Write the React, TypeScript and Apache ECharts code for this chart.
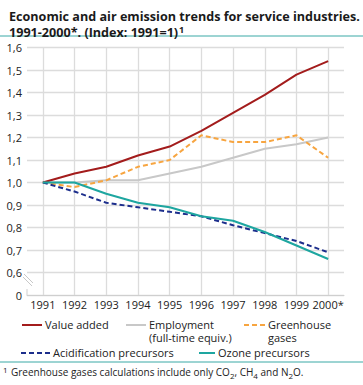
import React, { useEffect, useRef } from "react";
import * as echarts from "echarts";

const years = ["1991", "1992", "1993", "1994", "1995", "1996", "1997", "1998", "1999", "2000*"];
const seriesNames = [
  "Value added",
  "Employment\n(full-time equiv.)",
  "Greenhouse\ngases",
  "Acidification precursors",
  "Ozone precursors",
];
const valueAdded = [1.0, 1.04, 1.07, 1.12, 1.16, 1.23, 1.31, 1.39, 1.48, 1.54];
const employment = [1.0, 1.0, 1.01, 1.01, 1.04, 1.07, 1.11, 1.15, 1.17, 1.2];
const greenhouse = [1.0, 0.98, 1.01, 1.07, 1.1, 1.21, 1.18, 1.18, 1.21, 1.11];
const acidification = [1.0, 0.96, 0.91, 0.89, 0.87, 0.85, 0.81, 0.775, 0.74, 0.69];
const ozone = [1.0, 1.0, 0.95, 0.91, 0.89, 0.85, 0.83, 0.78, 0.72, 0.66];

const colors = ["#a31c1c", "#c8c8c8", "#f7a540", "#1c2e8c", "#1ea6a0"];
const dashed = [false, false, true, true, false];
const FONT = "Open Sans";

export default function App() {
  const ref = useRef<HTMLDivElement>(null);
  useEffect(() => {
    if (!ref.current) return;
    const chart = echarts.init(ref.current, null, { renderer: "svg" });
    const data = [valueAdded, employment, greenhouse, acidification, ozone];
    const legendPos = [
      { x: 22, y: 325, w: 20 },
      { x: 126, y: 325, w: 20 },
      { x: 244, y: 325, w: 21 },
      { x: 21, y: 353, w: 29 },
      { x: 199, y: 353, w: 16 },
    ];
    const legendGraphics: any[] = [];
    seriesNames.forEach((name, i) => {
      const p = legendPos[i];
      legendGraphics.push({
        type: "line",
        shape: { x1: p.x, y1: p.y, x2: p.x + p.w, y2: p.y },
        style: {
          stroke: colors[i],
          lineWidth: 2,
          lineDash: dashed[i] ? [5, 3] : null,
        },
      });
      legendGraphics.push({
        type: "text",
        x: p.x + p.w + 3,
        y: p.y - 7,
        style: {
          text: name,
          font: `11px '${FONT}'`,
          fill: "#222",
          lineHeight: 13,
          verticalAlign: "top",
        },
      });
    });
    chart.setOption({
      animation: false,
      title: {
        left: 4,
        top: 4,
        text:
          "{t|Economic and air emission trends for service industries.}\n{t|1991-2000*. (Index: 1991=1)}{sup|1}",
        textStyle: {
          rich: {
            t: { fontFamily: FONT, fontWeight: "bold", fontSize: 12.6, lineHeight: 15.5, color: "#1a1a1a" },
            sup: { fontFamily: FONT, fontWeight: "bold", fontSize: 9, color: "#1a1a1a", padding: [0, 0, 7, 1] },
          },
        },
      },
      grid: { left: 27, right: 19, top: 47.6, bottom: 90 },
      xAxis: {
        type: "category",
        data: years,
        boundaryGap: true,
        axisLine: { show: true, lineStyle: { color: "#cfcfcf", width: 1 } },
        axisTick: { show: false },
        splitLine: { show: true, alignWithLabel: true, lineStyle: { color: "#dcdcdc", width: 1.3 } } as any,
        axisLabel: { fontFamily: FONT, fontSize: 11, color: "#222", margin: 4, interval: 0 },
      },
      yAxis: {
        type: "value",
        min: 0.5,
        max: 1.6,
        interval: 0.1,
        axisLine: { show: false },
        axisTick: { show: false },
        splitLine: { lineStyle: { color: "#dcdcdc", width: 1.3 } },
        axisLabel: {
          fontFamily: FONT,
          fontSize: 11,
          color: "#222",
          margin: 5,
          formatter: (v: number) => (v < 0.55 ? "0" : v.toFixed(1).replace(".", ",")),
        },
      },
      series: seriesNames.map((name, i) => ({
        name,
        type: "line",
        data: data[i],
        symbol: "none",
        z: i === 1 ? 1 : 2 + i,
        lineStyle: { color: colors[i], width: 2, type: dashed[i] ? [5, 3] : "solid" },
      })),
      graphic: [
        { type: "line", shape: { x1: 0, y1: 36, x2: 363, y2: 36 }, style: { stroke: "#3aa9a6", lineWidth: 1 } },
        { type: "line", shape: { x1: 0, y1: 362, x2: 363, y2: 362 }, style: { stroke: "#3aa9a6", lineWidth: 1 } },
        { type: "line", shape: { x1: 24, y1: 274, x2: 33, y2: 283 }, style: { stroke: "#c8c8c8", lineWidth: 1 } },
        { type: "line", shape: { x1: 23, y1: 277, x2: 32, y2: 286 }, style: { stroke: "#c8c8c8", lineWidth: 1 } },
        { type: "line", shape: { x1: 27, y1: 289, x2: 27, y2: 295 }, style: { stroke: "#cfcfcf", lineWidth: 1 } },
        ...legendGraphics,
        {
          type: "text",
          x: 3,
          y: 365,
          style: {
            text:
              "{sup|1} {t|Greenhouse gases calculations include only CO}{sub|2}{t|, CH}{sub|4}{t| and N}{sub|2}{t|O.}",
            rich: {
              t: { fontFamily: FONT, fontSize: 10, fill: "#222" },
              sup: { fontFamily: FONT, fontSize: 8, fill: "#222", padding: [0, 0, 6, 0] },
              sub: { fontFamily: FONT, fontSize: 8, fill: "#222", padding: [6, 0, 0, 0] },
            },
          },
        },
      ],
    });
    return () => chart.dispose();
  }, []);
  return (
    <div
      ref={ref}
      style={{ position: "fixed", left: 0, top: 0, width: 363, height: 385, background: "#fff" }}
    />
  );
}
